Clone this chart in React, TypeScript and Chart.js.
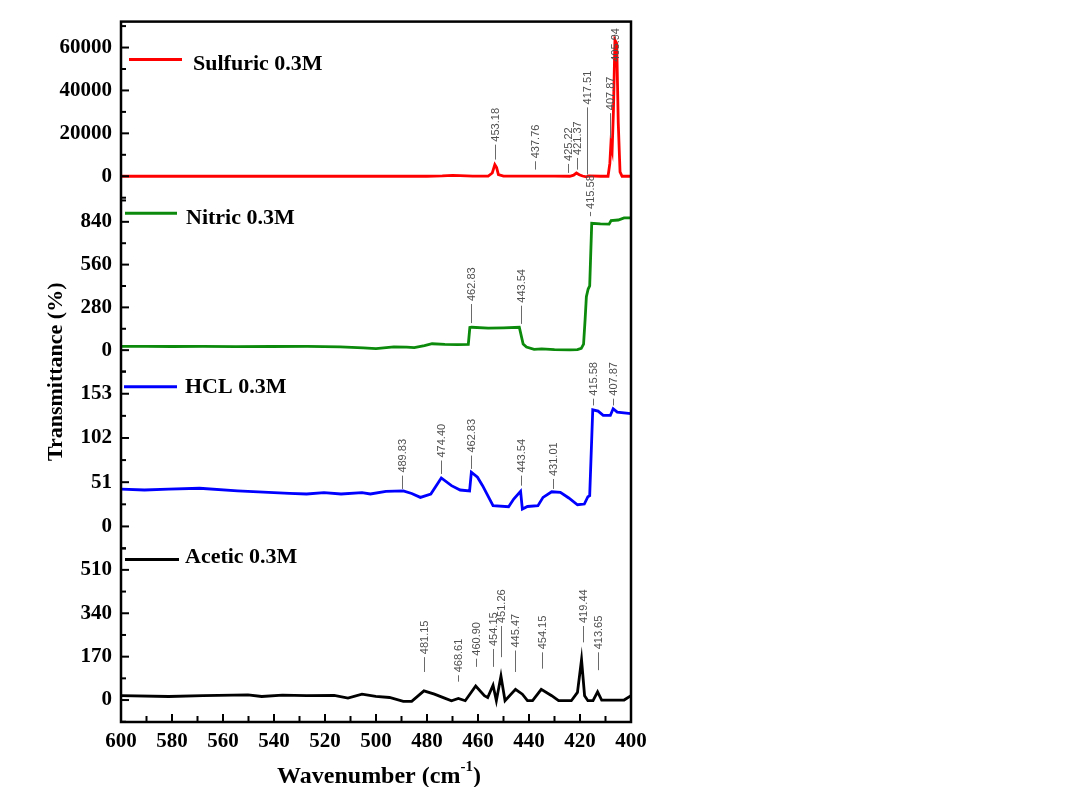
import { useEffect, useRef } from 'react';
import { Chart, registerables } from 'chart.js';

Chart.register(...registerables);

// ---------------- DATA ----------------
const wavenumberMin = 400;
const wavenumberMax = 600;
const wavenumberTickStep = 20;

const seriesNames = ['Sulfuric 0.3M', 'Nitric 0.3M', 'HCL 0.3M', 'Acetic 0.3M'];

// [wavenumber (cm-1), transmittance]
const sulfuricSpectrum: [number, number][] = [
  [600, 0], [580, 0], [560, 0], [540, 0], [520, 0], [500, 0], [480, 0], [474, 150], [470, 400],
  [467, 300], [462, 100], [456, 50], [454.4, 1500], [453.4, 5400], [452.7, 4000], [452, 800],
  [450, 100], [440, 50], [430, 50], [424, 0], [422.5, 500], [421.4, 1500], [420.3, 700], [419, 100],
  [417.6, -300], [416.5, 200], [412, 0], [409.0, 0], [408.3, 6000], [407.9, 14800], [407.4, 12000],
  [406.9, 30000], [406.3, 63500], [405.6, 62000], [405.0, 25000], [404.3, 2000], [403.5, 0], [400, 0],
];

const nitricSpectrum: [number, number][] = [
  [600, 25], [590, 25], [580, 24], [568, 25], [555, 23], [541, 24], [527, 25], [514, 22], [505, 15],
  [500, 10], [493, 22], [488, 20], [485, 16], [481, 30], [478, 42], [473, 38], [468, 36], [463.8, 38],
  [463.2, 148], [462.5, 150], [456, 144], [450, 146], [443.8, 150], [442.3, 40], [441, 20], [438, 5],
  [435, 8], [430, 4], [424, 2], [421, 4], [419.5, 12], [418.6, 40], [418, 200], [417.5, 350],
  [416.8, 400], [416.2, 420], [415.4, 830], [412, 826], [408.6, 825], [407.8, 848], [405, 852],
  [402.7, 866], [400, 866],
];

const hclSpectrum: [number, number][] = [
  [600, 43], [590.8, 42], [581.3, 43], [569.2, 44], [554.3, 41], [534, 38], [527.2, 37.4], [520.4, 39],
  [513.7, 37.4], [505.5, 39], [502.2, 37.4], [496.1, 40.5], [489.3, 41], [486, 38], [482.6, 33.5],
  [478.5, 37.4], [474.4, 55.9], [470.4, 47], [467, 42], [463.3, 41], [462.6, 62.5], [460.2, 56.7],
  [458.2, 47], [454.1, 24], [448, 22.7], [446, 31.6], [443.3, 40.5], [442.6, 20], [440.6, 23],
  [436.5, 24], [434.5, 33.5], [431.1, 40], [427.7, 39.3], [424.4, 32.8], [421, 25], [418.3, 25.8],
  [416.9, 34.3], [416.2, 35.5], [415, 134.5], [412.9, 133], [410.9, 128], [408.1, 128], [407, 135.7],
  [405.4, 131.8], [400, 130],
];

const aceticSpectrum: [number, number][] = [
  [600, 17], [581.3, 14], [567.8, 17], [550.2, 20.6], [544.8, 14], [536.7, 19], [527.2, 17],
  [516.4, 18], [511, 7.7], [505.5, 23], [500.1, 14], [494.7, 10], [489.3, -5], [486, -5], [481.2, 36],
  [477.1, 23], [473.1, 7.7], [470.4, -2.6], [467.7, 6.4], [465, -2.6], [460.9, 55], [457.5, 17],
  [456.2, 10], [454.1, 58], [452.8, -2.6], [451.0, 94], [449.4, -2.6], [445.3, 42], [442.6, 23],
  [440.6, -2.6], [438.6, -2.6], [435.2, 42], [431.1, 17], [428.4, -2.6], [423.4, -2.6], [421, 30],
  [419.4, 158], [418.2, 17], [416.9, -2.6], [414.9, -2.6], [413.1, 32], [411.5, 0], [402.7, 0],
  [400, 17],
];

// y-axis ticks and ranges per panel
const sulfuricTicks = [0, 20000, 40000, 60000];
const nitricTicks = [0, 280, 560, 840];
const hclTicks = [0, 51, 102, 153];
const aceticTicks = [0, 170, 340, 510];

const sulfuricRange = [-9535, 72093];
const nitricRange = [-141.7, 1004.5];
const hclRange = [-23.6, 178.3];
const aceticRange = [-86, 600];

// peak labels: [text, wavenumber, marker start value, marker end value]
const sulfuricPeaks: [string, number, number, number][] = [
  ['453.18', 453.2, 7770, 14740],
  ['437.76', 437.5, 3100, 6980],
  ['425.22', 424.6, 1550, 5740],
  ['421.37', 421.2, 3100, 8530],
  ['417.51', 417.1, 780, 32100],
  ['407.87', 408.3, 17800, 29400],
  ['405.94', 406.1, 52000, 52000],
];
const nitricPeaks: [string, number, number, number][] = [
  ['462.83', 462.6, 177, 302],
  ['443.54', 443.2, 172, 291],
  ['415.58', 416.0, 877, 905],
];
const hclPeaks: [string, number, number, number][] = [
  ['489.83', 490.0, 43.2, 58.6],
  ['474.40', 474.4, 60.5, 76],
  ['462.83', 462.6, 66.3, 81.7],
  ['443.54', 443.1, 47, 58.6],
  ['431.01', 430.7, 43.2, 54.7],
  ['415.58', 414.9, 139.5, 147.3],
  ['407.87', 407.1, 139.5, 147.3],
];
const aceticPeaks: [string, number, number, number][] = [
  ['481.15', 481.2, 110, 168],
  ['468.61', 467.7, 72, 97],
  ['460.90', 460.6, 130, 162],
  ['454.15', 454.1, 130, 200],
  ['451.26', 450.8, 168, 290],
  ['445.47', 445.3, 110, 194],
  ['454.15', 434.8, 123, 187],
  ['419.44', 419.0, 226, 290],
  ['413.65', 413.1, 117, 187],
];

// ---------------- STYLE / LAYOUT ----------------
const SERIF = "'Liberation Serif', 'Times New Roman', serif";
const SANS = "'Liberation Sans', Arial, sans-serif";
const seriesColors = ['#ff0000', '#0b8a0b', '#0000ff', '#000000'];
const panelIds = ['ySul', 'yNit', 'yHcl', 'yAce'];
// legend offsets relative to panel top / plot left
const legendLayout = [
  { lineDy: 38, textDy: 43, x0: 8, x1: 61, tx: 72 },
  { lineDy: 16.5, textDy: 21.5, x0: 4, x1: 56, tx: 65 },
  { lineDy: 15, textDy: 16, x0: 3, x1: 56, tx: 64 },
  { lineDy: 12.5, textDy: 10.5, x0: 4, x1: 58, tx: 64 },
];

const spectra = [sulfuricSpectrum, nitricSpectrum, hclSpectrum, aceticSpectrum];
const panelTicks = [sulfuricTicks, nitricTicks, hclTicks, aceticTicks];
const panelRanges = [sulfuricRange, nitricRange, hclRange, aceticRange];
const panelPeaks = [sulfuricPeaks, nitricPeaks, hclPeaks, aceticPeaks];

const decorPlugin = {
  id: 'decor',
  afterDraw(chart: any) {
    const ctx: CanvasRenderingContext2D = chart.ctx;
    const area = chart.chartArea;
    const xs = chart.scales.x;
    ctx.save();

    // peak annotations
    panelIds.forEach((id, i) => {
      const s = chart.scales[id];
      panelPeaks[i].forEach(([label, w, y0, y1]) => {
        const px = Math.round(xs.getPixelForValue(w)) + 0.5;
        const pb = s.getPixelForValue(y0);
        const pt = s.getPixelForValue(y1);
        if (pb - pt > 0.5) {
          ctx.strokeStyle = '#6a6a6a';
          ctx.lineWidth = 1;
          ctx.beginPath();
          ctx.moveTo(px, pb);
          ctx.lineTo(px, pt);
          ctx.stroke();
        }
        ctx.save();
        ctx.translate(px, pt - 3);
        ctx.rotate(-Math.PI / 2);
        ctx.fillStyle = '#505050';
        ctx.font = `11px ${SANS}`;
        ctx.textAlign = 'left';
        ctx.textBaseline = 'middle';
        ctx.fillText(label, 0, 0);
        ctx.restore();
      });
    });

    // legends
    panelIds.forEach((id, i) => {
      const s = chart.scales[id];
      const L = legendLayout[i];
      ctx.strokeStyle = seriesColors[i];
      ctx.lineWidth = 3;
      ctx.beginPath();
      ctx.moveTo(area.left + L.x0, s.top + L.lineDy);
      ctx.lineTo(area.left + L.x1, s.top + L.lineDy);
      ctx.stroke();
      ctx.fillStyle = '#000';
      ctx.font = `bold 22px ${SERIF}`;
      ctx.textAlign = 'left';
      ctx.textBaseline = 'middle';
      ctx.fillText(seriesNames[i], area.left + L.tx, s.top + L.textDy);
    });

    // x ticks (inward)
    ctx.strokeStyle = '#000';
    ctx.lineWidth = 2;
    for (let v = wavenumberMin; v <= wavenumberMax; v += wavenumberTickStep / 2) {
      const px = xs.getPixelForValue(v);
      const len = v % wavenumberTickStep === 0 ? 8 : 6;
      ctx.beginPath();
      ctx.moveTo(px, area.bottom);
      ctx.lineTo(px, area.bottom - len);
      ctx.stroke();
    }
    // y ticks (inward), major + minor
    panelIds.forEach((id, i) => {
      const s = chart.scales[id];
      const t = panelTicks[i];
      const step = t[1] - t[0];
      for (let k = -1; k <= t.length * 2; k++) {
        const v = t[0] + (k * step) / 2;
        const py = s.getPixelForValue(v);
        if (py < s.top - 3 || py > s.bottom + 3) continue;
        const len = k % 2 === 0 ? 8 : 5;
        ctx.beginPath();
        ctx.moveTo(area.left, py);
        ctx.lineTo(area.left + len, py);
        ctx.stroke();
      }
    });

    // frame
    ctx.lineWidth = 2.5;
    ctx.strokeRect(area.left, area.top, area.right - area.left, area.bottom - area.top);

    // y title
    ctx.save();
    ctx.translate(56, (area.top + area.bottom) / 2);
    ctx.rotate(-Math.PI / 2);
    ctx.fillStyle = '#000';
    ctx.font = `bold 22px ${SERIF}`;
    ctx.textAlign = 'center';
    ctx.textBaseline = 'middle';
    ctx.fillText('Transmittance (%)', 0, 0);
    ctx.restore();

    // x title with superscript
    const main = 'Wavenumber (cm';
    const sup = '-1';
    const close = ')';
    ctx.fillStyle = '#000';
    ctx.textBaseline = 'alphabetic';
    ctx.textAlign = 'left';
    ctx.font = `bold 24px ${SERIF}`;
    const wMain = ctx.measureText(main).width;
    const wClose = ctx.measureText(close).width;
    ctx.font = `bold 15px ${SERIF}`;
    const wSup = ctx.measureText(sup).width;
    const total = wMain + wSup + wClose;
    const cx = (area.left + area.right) / 2 + 3;
    const base = area.bottom + 61;
    let x0 = cx - total / 2;
    ctx.font = `bold 24px ${SERIF}`;
    ctx.fillText(main, x0, base);
    x0 += wMain;
    ctx.font = `bold 15px ${SERIF}`;
    ctx.fillText(sup, x0, base - 12);
    x0 += wSup;
    ctx.font = `bold 24px ${SERIF}`;
    ctx.fillText(close, x0, base);

    ctx.restore();
  },
};

export default function App() {
  const ref = useRef<HTMLCanvasElement>(null);

  useEffect(() => {
    const canvas = ref.current;
    if (!canvas) return;

    const yScale = (i: number) => ({
      type: 'linear',
      position: 'left',
      stack: 'panels',
      stackWeight: 1,
      min: panelRanges[i][0],
      max: panelRanges[i][1],
      grid: { display: false, drawTicks: false },
      border: { display: false },
      afterBuildTicks: (scale: any) => {
        scale.ticks = panelTicks[i].map((v) => ({ value: v }));
      },
      afterFit: (scale: any) => {
        scale.width = 121;
      },
      ticks: {
        padding: 9,
        color: '#000',
        font: { family: SERIF, size: 21, weight: 'bold' },
        callback: (v: any) => String(v),
      },
    });

    const scales: any = {
      x: {
        type: 'linear',
        reverse: true,
        min: wavenumberMin,
        max: wavenumberMax,
        grid: { display: false, drawTicks: false },
        border: { display: false },
        afterFit: (scale: any) => {
          scale.height = 65;
        },
        ticks: {
          stepSize: wavenumberTickStep,
          padding: 7,
          color: '#000',
          font: { family: SERIF, size: 21, weight: 'bold' },
          callback: (v: any) => String(v),
          maxRotation: 0,
          autoSkip: false,
        },
      },
    };
    // later-defined stacked axes are placed higher
    scales.yAce = yScale(3);
    scales.yHcl = yScale(2);
    scales.yNit = yScale(1);
    scales.ySul = yScale(0);

    const chart = new Chart(canvas, {
      type: 'line',
      data: {
        datasets: spectra.map((sp, i) => ({
          label: seriesNames[i],
          data: sp.map(([x, y]) => ({ x, y })),
          yAxisID: panelIds[i],
          borderColor: seriesColors[i],
          borderWidth: 2.8,
          pointRadius: 0,
          tension: 0,
          fill: false,
        })),
      },
      options: {
        animation: false,
        responsive: false,
        events: [],
        layout: { padding: { left: 0, top: 20, right: 453, bottom: 0 } },
        plugins: {
          legend: { display: false },
          title: { display: false },
          tooltip: { enabled: false },
        },
        scales,
      } as any,
      plugins: [decorPlugin],
    });

    return () => chart.destroy();
  }, []);

  return (
    <div style={{ position: 'absolute', left: 0, top: 0, width: 1084, height: 787, background: '#fff' }}>
      <canvas ref={ref} width={1084} height={787} style={{ display: 'block', width: 1084, height: 787 }} />
    </div>
  );
}
